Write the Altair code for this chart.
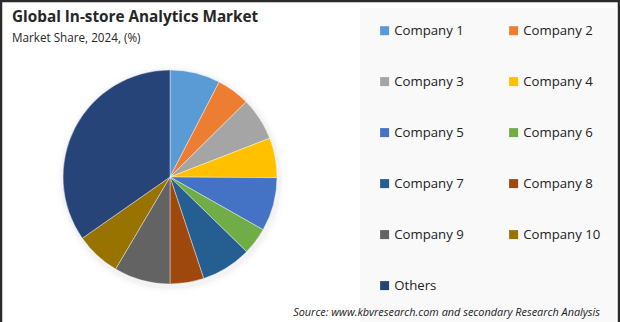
import altair as alt
import pandas as pd

companies = ["Company 1", "Company 2", "Company 3", "Company 4", "Company 5",
             "Company 6", "Company 7", "Company 8", "Company 9", "Company 10", "Others"]
shares = [7.6, 5.0, 6.5, 6.0, 8.1, 4.1, 7.6, 5.1, 8.5, 6.8, 34.7]
colors = ["#5B9BD5", "#ED7D31", "#A5A5A5", "#FFC000", "#4472C4", "#70AD47",
          "#255E91", "#9E480E", "#636363", "#997300", "#264478"]

df = pd.DataFrame({"company": companies, "share": shares, "idx": list(range(len(companies)))})

W, H = 620, 322
FONT = "Open Sans"

base = alt.Chart(df)

# legend panel background
panel = alt.Chart(pd.DataFrame({"a": [0]})).mark_rect(color="#f9f9f9").encode(
    x=alt.value(360), x2=alt.value(616), y=alt.value(8), y2=alt.value(322))

shadow = []
for r, op in [(115, 0.025), (112, 0.04), (110, 0.06)]:
    shadow.append(base.mark_arc(radius=r, color="#9a9a9a", opacity=op).encode(
        theta=alt.Theta("share:Q", stack=True),
        order=alt.Order("idx:O"),
        x=alt.value(171), y=alt.value(179)))

pie = base.mark_arc(radius=107, stroke="#ffffff", strokeWidth=0.4).encode(
    theta=alt.Theta("share:Q", stack=True),
    order=alt.Order("idx:O"),
    color=alt.Color("company:N",
                    scale=alt.Scale(domain=companies, range=colors),
                    sort=companies,
                    legend=alt.Legend(orient="none", legendX=378, legendY=24,
                                      columns=2, direction="horizontal", title=None,
                                      symbolType="square", symbolSize=81,
                                      symbolStrokeWidth=0,
                                      labelFont=FONT, labelFontSize=13.2,
                                      labelColor="#222222", labelOffset=3,
                                      rowPadding=37, columnPadding=43,
                                      padding=0)),
    x=alt.value(170), y=alt.value(177))

title = alt.Chart(pd.DataFrame({"t": ["Global In-store Analytics Market"]})).mark_text(
    font=FONT, fontSize=15.3, fontWeight="bold", color="#262626", align="left", baseline="middle"
).encode(text="t:N", x=alt.value(12), y=alt.value(17))

subtitle = alt.Chart(pd.DataFrame({"t": ["Market Share, 2024, (%)"]})).mark_text(
    font=FONT, fontSize=11.7, color="#262626", align="left", baseline="middle"
).encode(text="t:N", x=alt.value(12), y=alt.value(38))

source = alt.Chart(pd.DataFrame({"t": ["Source: www.kbvresearch.com and secondary Research Analysis"]})).mark_text(
    font=FONT, fontSize=10.9, fontStyle="italic", color="#222222", align="right", baseline="middle"
).encode(text="t:N", x=alt.value(600), y=alt.value(313))

borders = alt.Chart(pd.DataFrame({"a": [0]})).mark_rule(color="#2b2b2b", strokeWidth=2.5).encode(
    x=alt.value(0), x2=alt.value(620), y=alt.value(1))
left = alt.Chart(pd.DataFrame({"a": [0]})).mark_rule(color="#2b2b2b", strokeWidth=2.5).encode(
    x=alt.value(1), y=alt.value(0), y2=alt.value(322))
right = alt.Chart(pd.DataFrame({"a": [0]})).mark_rule(color="#2b2b2b", strokeWidth=2.5).encode(
    x=alt.value(619), y=alt.value(0), y2=alt.value(322))

chart = alt.layer(panel, *shadow, pie, title, subtitle, source, borders, left, right).properties(
    width=W, height=H, padding=0, autosize=alt.AutoSizeParams(type="none"),
    background="#ffffff"
).configure_view(stroke=None)

chart.save("out.html", embed_options={"renderer": "svg", "actions": False})
